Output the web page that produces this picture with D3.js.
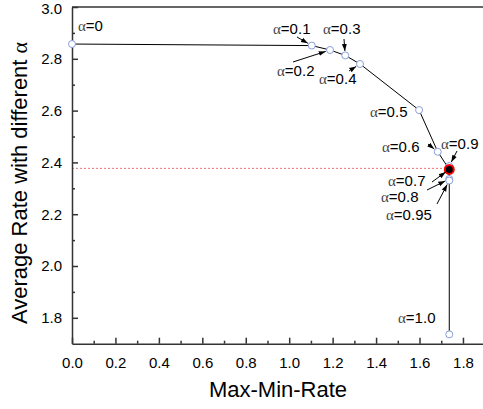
<!DOCTYPE html>
<html><head><meta charset="utf-8">
<script src="https://cdn.jsdelivr.net/npm/d3@7"></script>
<style>body{margin:0;background:#fff}svg{display:block}</style>
</head><body>
<svg id="c" width="483" height="409"></svg>
<script>
const alphas = ["0","0.1","0.2","0.3","0.4","0.5","0.6","0.7","0.8","0.9","0.95","1.0"];
const maxMinRate = [0, 1.104, 1.188, 1.258, 1.326, 1.598, 1.684, 1.737, 1.737, 1.737, 1.737, 1.737];
const avgRate = [2.857, 2.851, 2.834, 2.813, 2.780, 2.602, 2.441, 2.373, 2.336, 2.386, 2.330, 1.736];
const selectedAlpha = "0.7";
const refLevel = 2.377;
const xTicks = [0,0.2,0.4,0.6,0.8,1.0,1.2,1.4,1.6,1.8];
const yTicks = [1.8,2.0,2.2,2.4,2.6,2.8,3.0];
const labelPos = {
  "0":   {tx:78, ty:31},
  "0.1": {tx:273, ty:34, a:[297,37]},
  "0.2": {tx:277, ty:76, a:[293,62]},
  "0.3": {tx:323, ty:34, a:[344,39]},
  "0.4": {tx:319, ty:84, a:[349,71]},
  "0.5": {tx:370, ty:117},
  "0.6": {tx:382, ty:152, a:[428,144]},
  "0.7": {tx:388, ty:186, a:[432,182]},
  "0.8": {tx:381, ty:202, a:[427,190]},
  "0.9": {tx:441, ty:149, a:[457,151]},
  "0.95":{tx:386, ty:220, a:[437,204]},
  "1.0": {tx:398, ty:323}
};

const svg = d3.select("#c");
const L=72, T=7, B=343.7;
const x = d3.scaleLinear().domain([0,1.9]).range([L, L+1.9*217.2]);
const y = d3.scaleLinear().domain([1.7,3.0]).range([B, T]);
const axisCol = "#333";
const sans = "Liberation Sans, Arial, sans-serif";

svg.append("defs").append("marker").attr("id","ah").attr("viewBox","0 0 10 10")
  .attr("refX",10).attr("refY",5).attr("markerWidth",7).attr("markerHeight",7)
  .attr("orient","auto").append("path").attr("d","M0,1.5L10,5L0,8.5z").attr("fill","#000");

svg.append("line").attr("x1",L).attr("x2",x(maxMinRate[alphas.indexOf(selectedAlpha)]))
  .attr("y1",y(refLevel)).attr("y2",y(refLevel))
  .attr("stroke","#f07070").attr("stroke-width",1).attr("stroke-dasharray","2,2");

const pts = alphas.map((a,i)=>({a, x:maxMinRate[i], y:avgRate[i]}));
svg.append("path").datum(pts).attr("fill","none").attr("stroke","#000").attr("stroke-width",1)
  .attr("d", d3.line().x(d=>x(d.x)).y(d=>y(d.y)));

const xAxis = d3.axisBottom(x).tickValues(xTicks).tickSizeInner(-6).tickSizeOuter(0).tickPadding(14).tickFormat(d3.format(".1f"));
const gx = svg.append("g").attr("transform",`translate(0,${B})`).call(xAxis);
const xMinor = d3.axisBottom(x).tickValues(d3.range(0.1,1.9,0.2)).tickSizeInner(-3).tickSizeOuter(0).tickFormat("");
const gxm = svg.append("g").attr("transform",`translate(0,${B})`).call(xMinor);
gxm.select(".domain").remove();
const yAxis = d3.axisLeft(y).tickValues(yTicks).tickSizeInner(-6).tickSizeOuter(0).tickPadding(10).tickFormat(d3.format(".1f"));
const gy = svg.append("g").attr("transform",`translate(${L},0)`).call(yAxis);
const yMinor = d3.axisLeft(y).tickValues(d3.range(1.9,3.0,0.2)).tickSizeInner(-3).tickSizeOuter(0).tickFormat("");
const gym = svg.append("g").attr("transform",`translate(${L},0)`).call(yMinor);
gym.select(".domain").remove();
[gx,gy,gxm,gym].forEach(g=>{
  g.selectAll("path,line").attr("stroke",axisCol).attr("stroke-width",1.5);
  g.selectAll("text").attr("font-family",sans).attr("font-size",15).attr("fill","#000");
});
gy.selectAll(".tick").filter(d=>d===3.0).select("text").attr("dy","0.42em");
svg.append("line").attr("x1",L).attr("x2",483).attr("y1",T).attr("y2",T).attr("stroke",axisCol).attr("stroke-width",1.5);

svg.append("g").selectAll("circle").data(pts.filter(d=>d.a!==selectedAlpha)).join("circle")
  .attr("cx",d=>x(d.x)).attr("cy",d=>y(d.y)).attr("r",3.5)
  .attr("fill","#fff").attr("stroke","#8a9fd8").attr("stroke-width",1);
const sel = pts.find(d=>d.a===selectedAlpha);
svg.append("circle").attr("cx",x(sel.x)).attr("cy",y(sel.y)).attr("r",4.5).attr("fill","#000").attr("stroke","#ff0000").attr("stroke-width",2);

const lg = svg.append("g");
pts.forEach(d=>{
  const p = labelPos[d.a];
  const t = lg.append("text").attr("x",p.tx).attr("y",p.ty).attr("font-size",15)
    .attr("font-family",sans).attr("fill","#000");
  t.append("tspan").attr("font-family","Liberation Serif, serif").attr("fill","#444").text("α");
  t.append("tspan").text("="+d.a);
  if (p.a) {
    const hx = x(d.x), hy = y(d.y);
    const dx = hx-p.a[0], dy = hy-p.a[1], len = Math.hypot(dx,dy);
    lg.append("line").attr("x1",p.a[0]).attr("y1",p.a[1])
      .attr("x2",hx-dx/len*4.5).attr("y2",hy-dy/len*4.5)
      .attr("stroke","#000").attr("stroke-width",1).attr("marker-end","url(#ah)");
  }
});

svg.append("text").attr("x",278).attr("y",397).attr("text-anchor","middle")
  .attr("font-family",sans).attr("font-size",22).text("Max-Min-Rate");
const yt = svg.append("text").attr("transform","translate(27,183) rotate(-90)").attr("text-anchor","middle")
  .attr("font-family",sans).attr("font-size",22);
yt.append("tspan").text("Average Rate with different ");
yt.append("tspan").attr("font-family","Liberation Serif, serif").text("α");
</script>
</body></html>
